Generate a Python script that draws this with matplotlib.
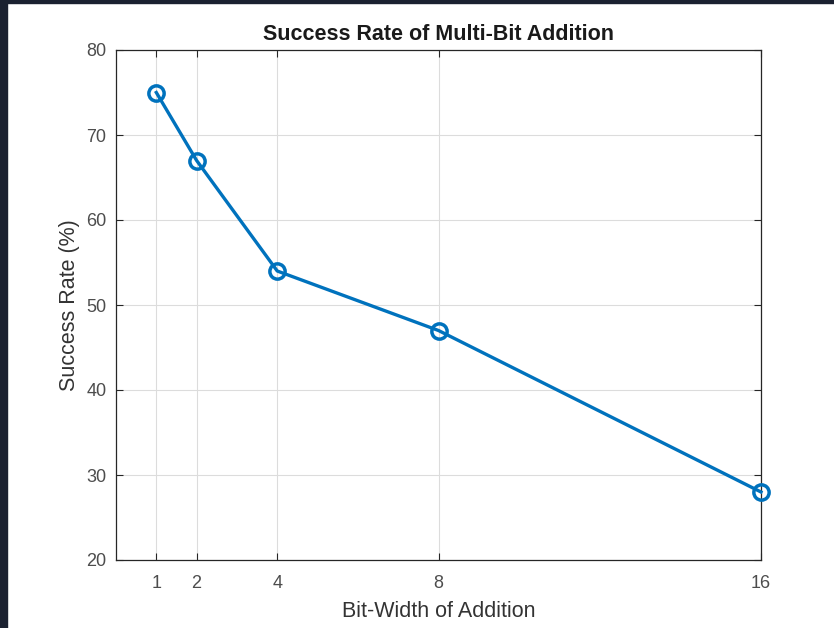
import matplotlib
matplotlib.use("Agg")
import matplotlib.pyplot as plt
from matplotlib.patches import Rectangle

bit_widths = [1, 2, 4, 8, 16]
success_rate = [75, 67, 54, 47, 28]
x_ticks = [1, 2, 4, 8, 16]
y_ticks = [20, 30, 40, 50, 60, 70, 80]

plt.rcParams['font.family'] = ['Liberation Sans', 'DejaVu Sans']

W, H = 834, 628
fig = plt.figure(figsize=(W/100, H/100), dpi=100)
fig.patch.set_facecolor('white')
# dark frame strips
fig.patches.append(Rectangle((0, 0), 7/W, 1, transform=fig.transFigure, color='#1b2130', zorder=0))
fig.patches.append(Rectangle((0, 1 - 3/H), 1, 3/H, transform=fig.transFigure, color='#1b2130', zorder=0))

ax = fig.add_axes([116/W, 1 - 560/H, (761-116)/W, (560-50)/H])
ax.plot(bit_widths, success_rate, color='#0072BD', linewidth=2.4, marker='o',
        markersize=11, markerfacecolor='none', markeredgewidth=2.5, zorder=3, clip_on=False)
ax.set_xlim(0, 16)
ax.set_ylim(20, 80)
ax.set_xticks(x_ticks)
ax.set_yticks(y_ticks)
ax.grid(True, color='#dcdcdc', linewidth=0.8)
ax.set_axisbelow(True)
ax.tick_params(direction='in', top=True, right=True, length=5, width=0.8,
               colors='#262626', labelcolor='#4d4d4d', labelsize=13)
ax.tick_params(axis='y', pad=7)
ax.tick_params(axis='x', pad=11)
for s in ax.spines.values():
    s.set_color('#262626')
    s.set_linewidth(0.9)
ax.set_title('Success Rate of Multi-Bit Addition', fontsize=15.5, fontweight='bold', color='#1a1a1a', pad=7)
ax.set_xlabel('Bit-Width of Addition', fontsize=15.5, color='#333333', labelpad=6)
ax.set_ylabel('Success Rate (%)', fontsize=15.5, color='#333333', labelpad=4)

fig.savefig('out.png', dpi=100)
